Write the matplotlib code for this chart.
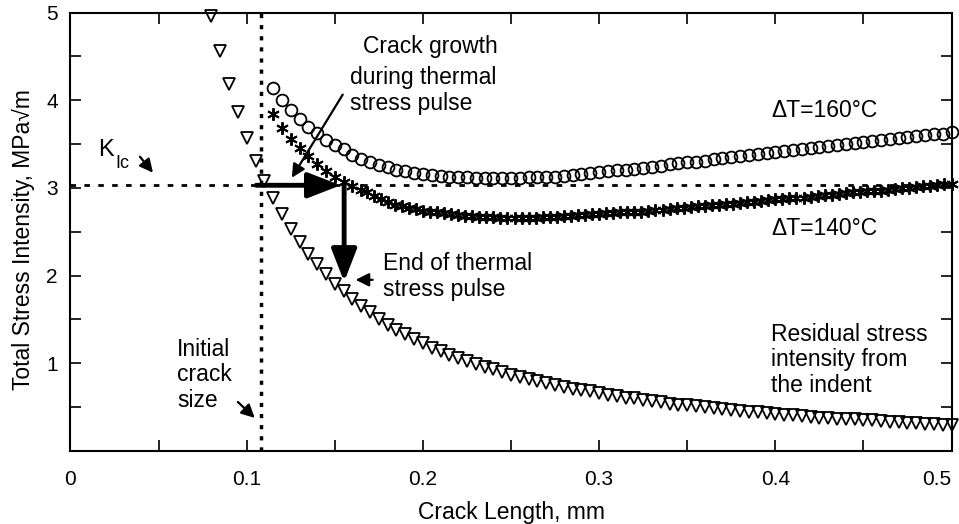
import matplotlib
matplotlib.use('Agg')
import matplotlib.pyplot as plt
import numpy as np
from matplotlib.ticker import MultipleLocator, FuncFormatter

plt.rcParams['font.family'] = ['Liberation Sans', 'DejaVu Sans']

# residual stress intensity from the indent (triangles), a = 0.080 .. 0.500 step 0.005
resid_x = np.linspace(0.08, 0.5, 85)
resid_k = [4.96, 4.56, 4.18, 3.86, 3.57, 3.31, 3.08, 2.88, 2.70, 2.53,
           2.38, 2.25, 2.13, 2.02, 1.91, 1.82, 1.73, 1.65, 1.58, 1.51,
           1.44, 1.38, 1.33, 1.28, 1.23, 1.18, 1.14, 1.10, 1.06, 1.03,
           0.99, 0.96, 0.93, 0.90, 0.87, 0.84, 0.82, 0.80, 0.77, 0.75,
           0.73, 0.71, 0.69, 0.68, 0.66, 0.64, 0.63, 0.61, 0.60, 0.58,
           0.57, 0.56, 0.54, 0.53, 0.52, 0.51, 0.50, 0.49, 0.48, 0.47,
           0.46, 0.45, 0.44, 0.43, 0.42, 0.41, 0.41, 0.40, 0.39, 0.38,
           0.38, 0.37, 0.36, 0.36, 0.35, 0.35, 0.34, 0.33, 0.33, 0.32,
           0.32, 0.31, 0.31, 0.30, 0.30]

# dT = 160 C (circles), a = 0.115 .. 0.500 step 0.005
t160_x = np.linspace(0.115, 0.5, 78)
t160_k = [4.14, 4.00, 3.89, 3.79, 3.70, 3.63, 3.55, 3.49, 3.44, 3.38,
          3.33, 3.29, 3.26, 3.24, 3.21, 3.19, 3.17, 3.16, 3.15, 3.14,
          3.13, 3.12, 3.12, 3.11, 3.11, 3.11, 3.11, 3.11, 3.11, 3.12,
          3.12, 3.13, 3.13, 3.14, 3.15, 3.16, 3.17, 3.18, 3.19, 3.20,
          3.21, 3.22, 3.23, 3.24, 3.25, 3.27, 3.28, 3.29, 3.30, 3.31,
          3.33, 3.34, 3.35, 3.36, 3.37, 3.39, 3.40, 3.41, 3.42, 3.43,
          3.44, 3.46, 3.47, 3.48, 3.49, 3.50, 3.51, 3.52, 3.54, 3.55,
          3.56, 3.57, 3.58, 3.59, 3.60, 3.61, 3.62, 3.64]

# dT = 140 C (asterisks), coarse start then finer steps
t140_x = np.concatenate([np.linspace(0.115, 0.165, 11), np.linspace(0.168, 0.5, 84)])
t140_k = [3.84, 3.68, 3.56, 3.46, 3.36, 3.27, 3.19, 3.13, 3.07, 3.02, 2.98,
          2.95, 2.91, 2.87, 2.84, 2.81, 2.79, 2.77, 2.76, 2.74, 2.73,
          2.72, 2.71, 2.70, 2.69, 2.68, 2.68, 2.67, 2.67, 2.67, 2.66,
          2.66, 2.66, 2.66, 2.66, 2.66, 2.67, 2.67, 2.67, 2.68, 2.68,
          2.69, 2.69, 2.70, 2.70, 2.71, 2.71, 2.72, 2.72, 2.73, 2.73,
          2.74, 2.75, 2.75, 2.76, 2.77, 2.77, 2.78, 2.79, 2.79, 2.80,
          2.81, 2.82, 2.82, 2.83, 2.84, 2.84, 2.85, 2.86, 2.87, 2.87,
          2.88, 2.89, 2.89, 2.90, 2.91, 2.92, 2.92, 2.93, 2.94, 2.95,
          2.95, 2.96, 2.97, 2.97, 2.98, 2.99, 3.00, 3.00, 3.01, 3.02,
          3.02, 3.03, 3.04, 3.04]

k_ic = 3.03
a_init = 0.1083
a_end = 0.1553
k_end = 1.93

fig = plt.figure(figsize=(9.59, 5.24), dpi=100)
ax = fig.add_axes([0.0735, 0.1393, 0.9187, 0.8368])

ax.plot(resid_x, resid_k, 'v', mfc='none', mec='black', ms=9, mew=1.3, ls='none', clip_on=False)
ax.plot(t160_x, t160_k, 'o', mfc='none', mec='black', ms=8.5, mew=1.3, ls='none', clip_on=False)
ax.plot(t140_x, t140_k, marker=(6, 2, 0), color='black', ms=9, mew=1.4, ls='none', clip_on=False)

ax.axhline(k_ic, color='black', lw=2, ls=(0, (2, 3)))
ax.axvline(a_init, color='black', lw=2.5, ls=(0, (1.2, 2)))

# thick arrows
ax.annotate('', xy=(a_end - 0.002, k_ic), xytext=(0.1054, k_ic),
            arrowprops=dict(arrowstyle='-|>,head_length=0.9,head_width=0.35', lw=3.5,
                            color='black', mutation_scale=22, shrinkA=0, shrinkB=0))
ax.annotate('', xy=(a_end, k_end), xytext=(a_end, k_ic + 0.02),
            arrowprops=dict(arrowstyle='-|>,head_length=0.9,head_width=0.35', lw=3.5,
                            color='black', mutation_scale=22, shrinkA=0, shrinkB=0))

thin = dict(arrowstyle='-|>,head_length=0.5,head_width=0.25', lw=1.6, color='black',
            mutation_scale=16, shrinkA=0, shrinkB=0)
ax.annotate('', xy=(0.1256, 3.116), xytext=(0.1545, 4.064), arrowprops=thin)
ax.annotate('', xy=(0.0468, 3.174), xytext=(0.0394, 3.356), arrowprops=thin)
ax.annotate('', xy=(0.1046, 0.377), xytext=(0.0950, 0.559), arrowprops=thin)
ax.annotate('', xy=(0.1618, 1.952), xytext=(0.1715, 1.952), arrowprops=thin)

fs = 16.5
ax.text(0.0156, 3.436, 'K', fontsize=17, va='center', ha='left')
ax.text(0.0252, 3.276, 'Ic', fontsize=13, va='center', ha='left')
ax.text(0.0604, 0.868, 'Initial\ncrack\nsize', fontsize=fs, va='center', ha='left', linespacing=1.15)
ax.text(0.1658, 4.612, 'Crack growth', fontsize=fs, va='center', ha='left')
ax.text(0.1584, 4.11, 'during thermal\nstress pulse', fontsize=fs, va='center', ha='left', linespacing=1.2)
ax.text(0.1771, 1.992, 'End of thermal\nstress pulse', fontsize=fs, va='center', ha='left', linespacing=1.15)
ax.text(0.3977, 3.881, 'ΔT=160°C', fontsize=fs, va='center', ha='left')
ax.text(0.3977, 2.534, 'ΔT=140°C', fontsize=fs, va='center', ha='left')
ax.text(0.3977, 1.039, 'Residual stress\nintensity from\nthe indent', fontsize=fs, va='center',
        ha='left', linespacing=1.15)

ax.set_xlim(0, 0.5)
ax.set_ylim(0, 5)
ax.set_xticks([0, 0.1, 0.2, 0.3, 0.4, 0.5])
ax.xaxis.set_minor_locator(MultipleLocator(0.05))
ax.yaxis.set_major_locator(MultipleLocator(1))
ax.yaxis.set_minor_locator(MultipleLocator(0.5))
ax.xaxis.set_major_formatter(FuncFormatter(lambda v, p: '{:g}'.format(round(v, 2))))
ax.yaxis.set_major_formatter(FuncFormatter(lambda v, p: '' if abs(v) < 1e-9 else '{:g}'.format(v)))
ax.tick_params(which='both', direction='in', top=True, right=True, length=8, width=1.2)
ax.tick_params(axis='x', which='major', pad=14, labelsize=15)
ax.tick_params(axis='y', which='major', pad=9, labelsize=15)
for s in ax.spines.values():
    s.set_linewidth(1.5)
ax.xaxis.get_major_ticks()[-1].label1.set_horizontalalignment('right')

ax.set_xlabel('Crack Length, mm', fontsize=fs, labelpad=8)
fig.text(23 / 959, 1 - 240 / 524, 'Total Stress Intensity, MPa√m', fontsize=fs,
         rotation=90, ha='center', va='center')

fig.savefig('out.png', dpi=100)
